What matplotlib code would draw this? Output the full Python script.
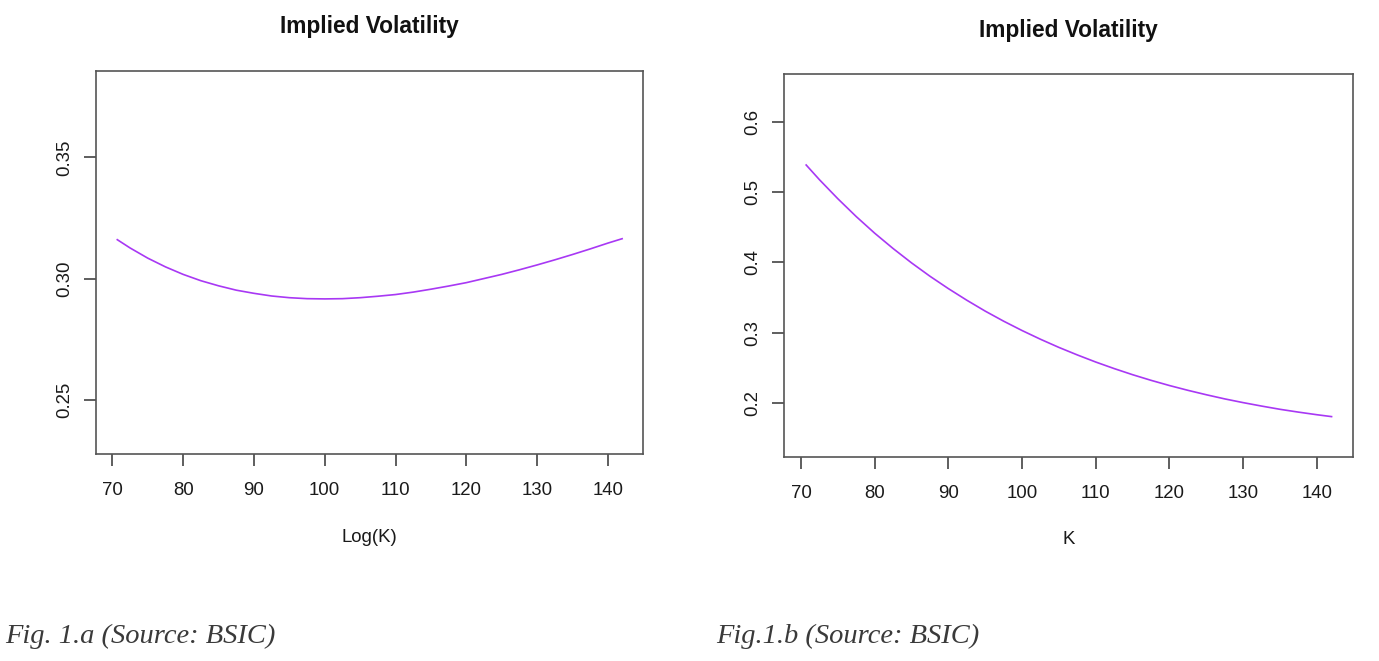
import matplotlib
matplotlib.use("Agg")
import matplotlib.pyplot as plt

# ---- data ----
strikes = [70.7, 72.5, 75, 77.5, 80, 82.5, 85, 87.5, 90, 92.5, 95, 97.5, 100,
           102.5, 105, 107.5, 110, 112.5, 115, 117.5, 120, 122.5, 125, 127.5,
           130, 132.5, 135, 137.5, 140, 142]

iv_log = [0.3161, 0.3127, 0.3085, 0.3049, 0.3018, 0.2992, 0.2971, 0.2953,
          0.2940, 0.2929, 0.2922, 0.2918, 0.2917, 0.2918, 0.2922, 0.2928,
          0.2935, 0.2945, 0.2957, 0.2970, 0.2984, 0.3001, 0.3018, 0.3037,
          0.3057, 0.3078, 0.3100, 0.3123, 0.3147, 0.3165]

iv_k = [0.5384, 0.5175, 0.4904, 0.4650, 0.4414, 0.4196, 0.3992, 0.3802,
        0.3626, 0.3461, 0.3306, 0.3163, 0.3030, 0.2906, 0.2790, 0.2683,
        0.2582, 0.2489, 0.2402, 0.2322, 0.2248, 0.2180, 0.2117, 0.2058,
        0.2005, 0.1956, 0.1910, 0.1870, 0.1833, 0.1806]

xticks = [70, 80, 90, 100, 110, 120, 130, 140]
yticks_a = [0.25, 0.30, 0.35]
yticks_a_lab = ["0.25", "0.30", "0.35"]
yticks_b = [0.2, 0.3, 0.4, 0.5, 0.6]
yticks_b_lab = ["0.2", "0.3", "0.4", "0.5", "0.6"]

titles = ["Implied Volatility", "Implied Volatility"]
xlabels = ["Log(K)", "K"]
captions = ["Fig. 1.a (Source: BSIC)", "Fig.1.b (Source: BSIC)"]

LINE_COLOR = "#A838F4"
FONT = ["Liberation Sans", "DejaVu Sans"]
SERIF = ["Liberation Serif", "DejaVu Serif"]

W, H = 1379, 661
fig = plt.figure(figsize=(W / 100, H / 100), dpi=100)
fig.patch.set_facecolor("white")


def box(l, t, r, b):
    return [l / W, 1 - b / H, (r - l) / W, (b - t) / H]


specs = [
    dict(rect=box(95.7, 71, 643, 454), y=iv_log, ylim=(0.2278, 0.3856),
         yt=yticks_a, ytl=yticks_a_lab, title_y=27, lpad=21.5),
    dict(rect=box(783.7, 74, 1353.3, 456.7), y=iv_k, ylim=(0.1236, 0.6678),
         yt=yticks_b, ytl=yticks_b_lab, title_y=30, lpad=21),
]

for i, s in enumerate(specs):
    ax = fig.add_axes(s["rect"])
    ax.plot(strikes, s["y"], color=LINE_COLOR, lw=1.2)
    ax.set_xlim(67.65, 144.95)
    ax.set_ylim(*s["ylim"])
    ax.set_xticks(xticks)
    ax.set_xticklabels([str(v) for v in xticks])
    ax.set_yticks(s["yt"])
    ax.set_yticklabels(s["ytl"], rotation=90, va="center")
    for sp in ax.spines.values():
        sp.set_color("#555555")
        sp.set_linewidth(1.2)
    ax.tick_params(axis="both", length=8.5, width=1.1, color="#333333",
                   labelsize=13.4, labelcolor="#1a1a1a")
    ax.tick_params(axis="x", pad=12)
    ax.tick_params(axis="y", pad=7.5)
    for lab in ax.get_xticklabels() + ax.get_yticklabels():
        lab.set_family(FONT)
    ax.set_xlabel(xlabels[i], fontsize=13.4, family=FONT, labelpad=s["lpad"],
                  color="#1a1a1a")
    x0, y0, w, h = s["rect"]
    fig.text(x0 + w / 2, 1 - s["title_y"] / H, titles[i], fontsize=16.4,
             fontweight="bold", family=FONT, color="#111111",
             ha="center", va="center")

fig.text(5 / W, 1 - 636 / H, captions[0], fontsize=20.5, style="italic",
         family=SERIF, color="#3a3a3a", va="center", ha="left")
fig.text(716 / W, 1 - 636 / H, captions[1], fontsize=20.5, style="italic",
         family=SERIF, color="#3a3a3a", va="center", ha="left")

fig.savefig("out.png", dpi=100, facecolor="white")
